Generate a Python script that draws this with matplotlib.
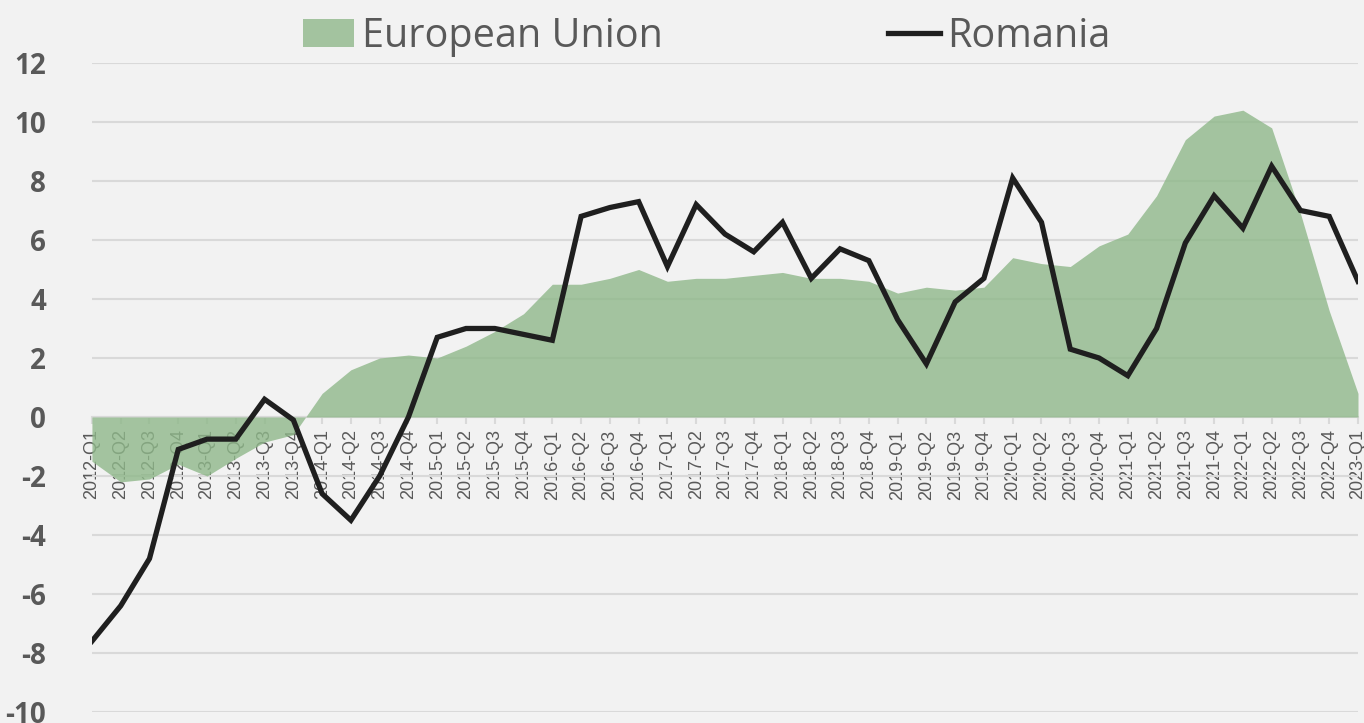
import matplotlib.pyplot as plt
from matplotlib.patches import Patch
from matplotlib.lines import Line2D

plt.rcParams["axes.unicode_minus"] = False

quarters = [f"{y}-Q{q}" for y in range(2012, 2023) for q in range(1, 5)] + ["2023-Q1"]

eu = [-1.5, -2.2, -2.1, -1.6, -2.0, -1.4, -0.85, -0.6,
      0.8, 1.6, 2.0, 2.1, 2.0, 2.4, 2.9, 3.5,
      4.5, 4.5, 4.7, 5.0, 4.6, 4.7, 4.7, 4.8,
      4.9, 4.7, 4.7, 4.6, 4.2, 4.4, 4.3, 4.4,
      5.4, 5.2, 5.1, 5.8, 6.2, 7.5, 9.4, 10.2,
      10.4, 9.8, 6.9, 3.6, 0.8]

romania = [-7.6, -6.4, -4.8, -1.1, -0.75, -0.75, 0.6, -0.1,
           -2.6, -3.5, -2.0, 0.0, 2.7, 3.0, 3.0, 2.8,
           2.6, 6.8, 7.1, 7.3, 5.1, 7.2, 6.2, 5.6,
           6.6, 4.7, 5.7, 5.3, 3.3, 1.8, 3.9, 4.7,
           8.1, 6.6, 2.3, 2.0, 1.4, 3.0, 5.9, 7.5,
           6.4, 8.5, 7.0, 6.8, 4.6]

bg = "#f2f2f2"
green = "#8fb88a"
grey_text = "#595959"
grid_col = "#d9d9d9"

fig = plt.figure(figsize=(13.64, 7.23), dpi=100, facecolor=bg)
ax = fig.add_axes([0.0674, 0.0152, 0.9282, 0.8977])
ax.set_facecolor(bg)

x = list(range(len(quarters)))
ax.set_axisbelow(True)
ax.yaxis.grid(True, color=grid_col, linewidth=1.5)
ax.fill_between(x, eu, 0, color=green, alpha=0.8, linewidth=0, zorder=2)
ax.plot(x, romania, color="#1f1f1f", linewidth=3.8, solid_joinstyle="miter", zorder=3)

ax.set_xlim(0, len(quarters) - 1)
ax.set_ylim(-10, 12)
ax.set_yticks(range(-10, 13, 2))

for s in ["left", "right", "top"]:
    ax.spines[s].set_visible(False)
ax.spines["bottom"].set_position(("data", 0))
ax.spines["bottom"].set_color(grid_col)
ax.spines["bottom"].set_linewidth(1.5)
ax.spines["bottom"].set_zorder(1)

ax.set_xticks(x)
ax.set_xticklabels(quarters, rotation=90, fontsize=13, color=grey_text,
                   family="Liberation Sans")
ax.tick_params(axis="x", length=5, color=grid_col, width=1.5, pad=4)
ax.tick_params(axis="y", length=0, pad=33)
for lab in ax.get_yticklabels():
    lab.set_fontsize(20)
    lab.set_fontweight("bold")
    lab.set_color(grey_text)
    lab.set_family("Open Sans")

handles = [Patch(facecolor=green, alpha=0.8, edgecolor="none"),
           Line2D([0], [0], color="#1f1f1f", linewidth=3.8)]
fig.legend(handles, ["European Union", "Romania"], loc="upper center",
           bbox_to_anchor=(0.518, 1.027), ncol=2, frameon=False,
           prop={"family": "Open Sans", "size": 28.5}, labelcolor=grey_text,
           handlelength=1.3, handleheight=0.7, handletextpad=0.18, columnspacing=5.7)

fig.savefig("out.png", dpi=100, facecolor=bg)
